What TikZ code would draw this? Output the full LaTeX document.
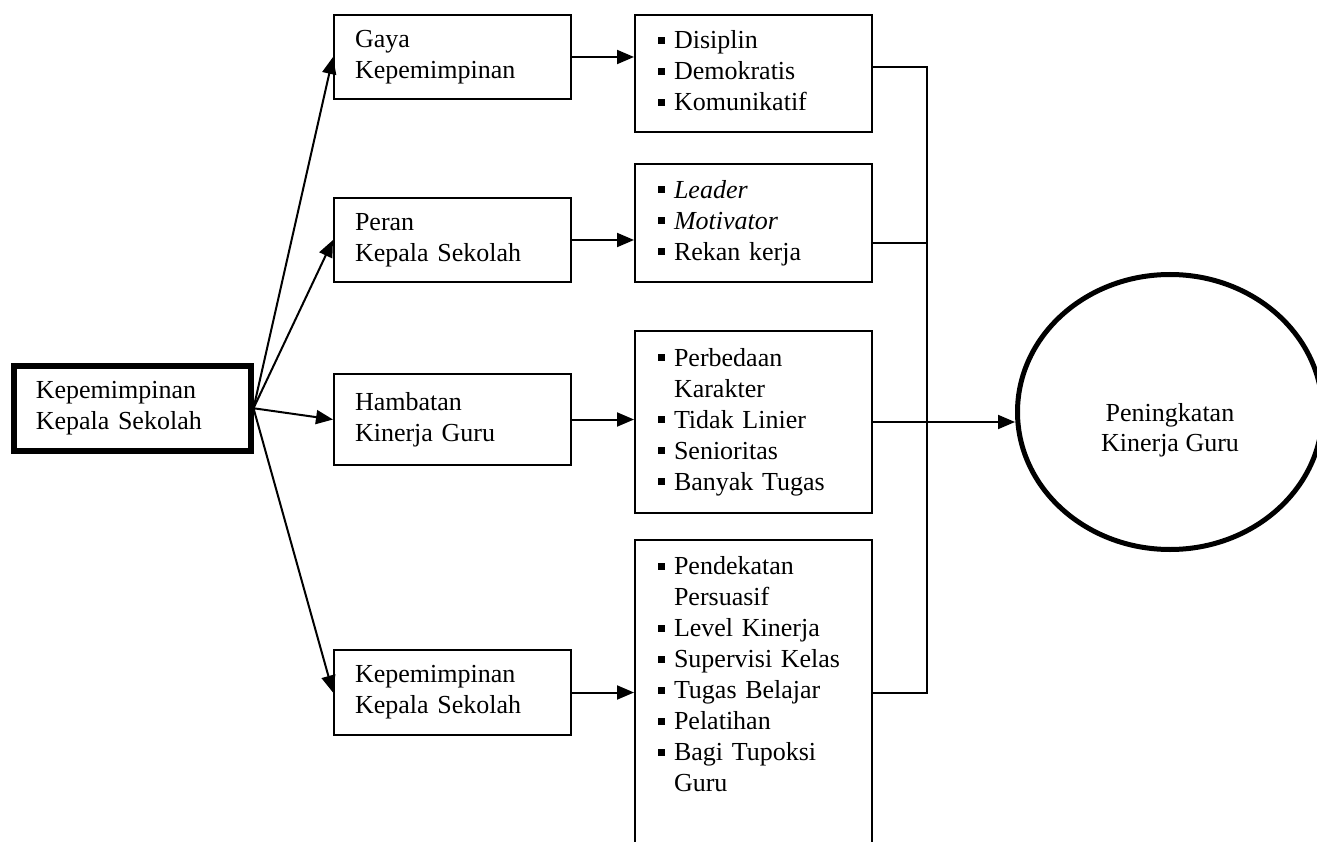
\documentclass[tikz,border=0pt]{standalone}
\usepackage{fontspec}
\setmainfont{Liberation Serif}
\usetikzlibrary{arrows.meta,shapes.geometric}
\tikzset{
  box/.style={draw,line width=2pt,minimum width=237pt,minimum height=#1,text width=195pt,inner xsep=21pt,inner ysep=0pt,align=left,anchor=north west,font=\fontsize{26}{31}\selectfont},
  lst/.style={draw,line width=2pt,minimum width=237pt,minimum height=#1,text width=191pt,inner xsep=23pt,inner ysep=0pt,align=left,anchor=north west,font=\fontsize{26}{31}\selectfont},
  arr/.style={-{Triangle[length=17pt,width=14pt]},line width=2pt},
  bus/.style={line width=1.5pt},
}
\newcommand{\sq}{\raisebox{5pt}{\rule{7pt}{7pt}}}

\begin{document}
\begin{tikzpicture}[x=1pt,y=-1pt]
 \useasboundingbox (0,0) rectangle (1317,842);
 \node[box=85pt,line width=5.5pt,text width=193pt] (kks) at (11,363) {Kepemimpinan\\Kepala Sekolah};
 \node[box=84pt] (gaya) at (333,14) {Gaya\\Kepemimpinan};
 \node[box=84pt] (peran) at (333,197) {Peran\\Kepala Sekolah};
 \node[box=91pt] (hamb) at (333,373) {Hambatan\\Kinerja Guru};
 \node[box=85pt] (kep) at (333,649) {Kepemimpinan\\Kepala Sekolah};
 \node[lst=117pt] (l1) at (634,14) {\begin{tabular}{@{}l@{\hspace{9pt}}l@{}}\sq & Disiplin\\ \sq & Demokratis\\ \sq & Komunikatif\end{tabular}};
 \node[lst=118pt] (l2) at (634,163) {\begin{tabular}{@{}l@{\hspace{9pt}}l@{}}\sq & \textit{Leader}\\ \sq & \textit{Motivator}\\ \sq & Rekan kerja\end{tabular}};
 \node[lst=182pt] (l3) at (634,330) {\begin{tabular}{@{}l@{\hspace{9pt}}l@{}}\sq & Perbedaan\\ & Karakter\\ \sq & Tidak Linier\\ \sq & Senioritas\\ \sq & Banyak Tugas\end{tabular}};
 \node[lst=305pt] (l4) at (634,539) {\begin{tabular}{@{}l@{\hspace{9pt}}l@{}}\sq & Pendekatan\\ & Persuasif\\ \sq & Level Kinerja\\ \sq & Supervisi Kelas\\ \sq & Tugas Belajar\\ \sq & Pelatihan\\ \sq & Bagi Tupoksi\\ & Guru\\ & \end{tabular}};
 \node[ellipse,draw,line width=5pt,minimum width=305pt,minimum height=275pt,label={[font=\fontsize{26}{30}\selectfont,align=center,yshift=-18pt]center:Peningkatan\\Kinerja Guru}] (pkg) at (1170,412) {};
 \foreach \t in {gaya,peran,hamb,kep} \draw[arr] (kks.east) -- (\t.west);
 \draw[arr] (gaya.east) -- (gaya.east -| l1.west);
 \draw[arr] (peran.east) -- (peran.east -| l2.west);
 \draw[arr] (hamb.east) -- (hamb.east -| l3.west);
 \draw[arr] (kep.east) -- (kep.east -| l4.west);
 \coordinate (j1) at (927,67);
 \coordinate (j2) at (927,243);
 \coordinate (j4) at (927,693);
 \draw[bus] (l1.east |- j1) -- (j1) -- (j4) -- (l4.east |- j4);
 \draw[bus] (l2.east |- j2) -- (j2);
 \draw[arr] (l3.east) -- (l3.east -| pkg.west);
\end{tikzpicture}
\end{document}
